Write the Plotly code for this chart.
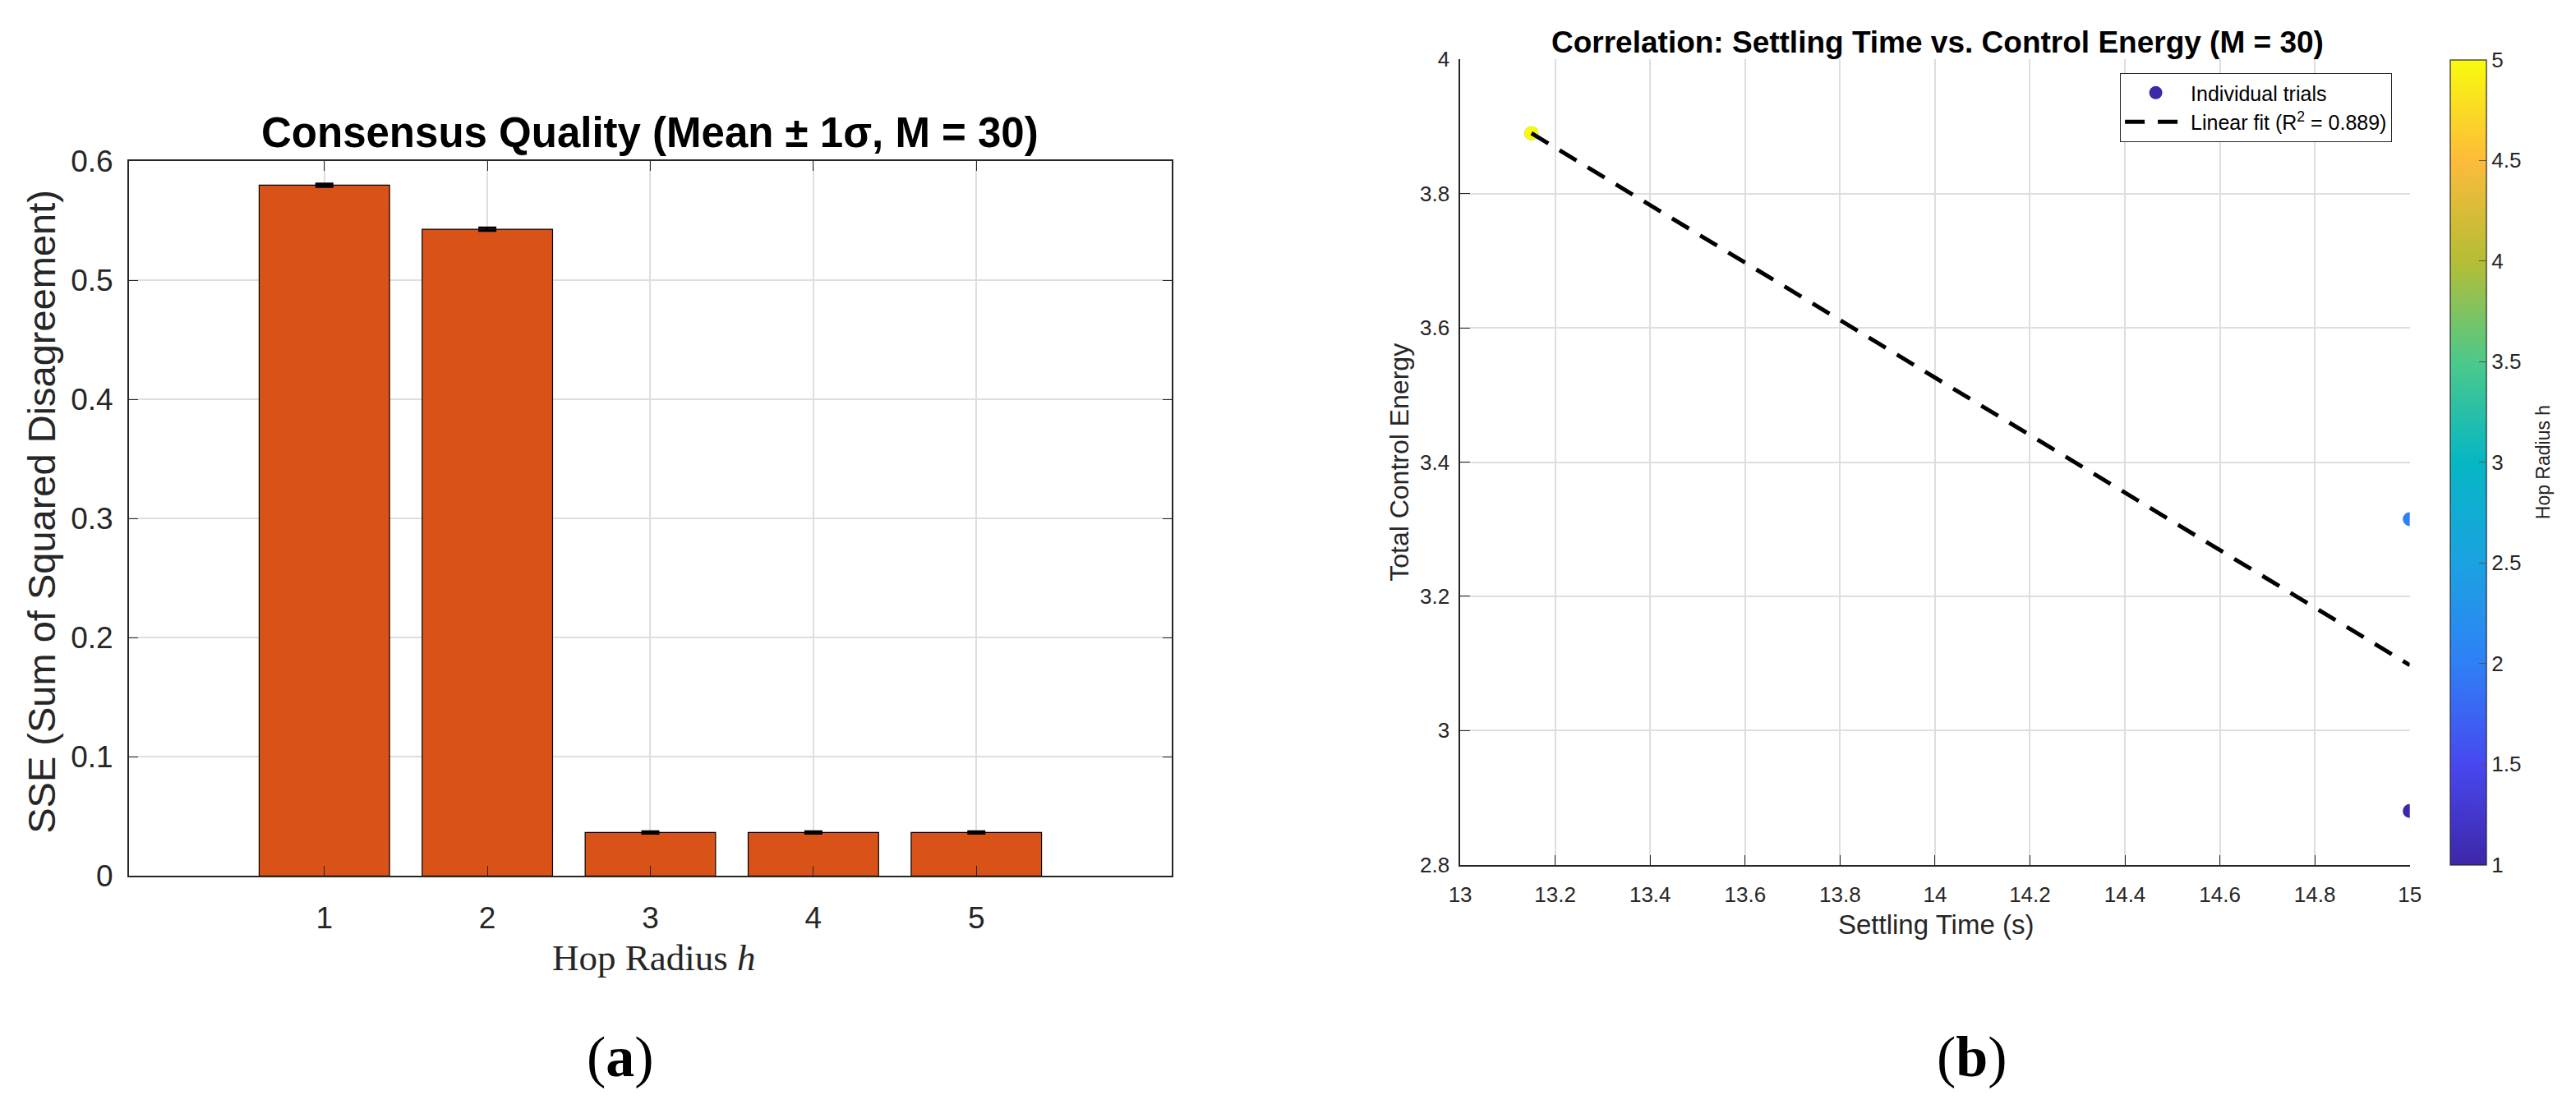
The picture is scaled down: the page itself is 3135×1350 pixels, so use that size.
import numpy as np
import plotly.graph_objects as go

W, H = 3135, 1350

# ---------------- data ----------------
hop_radius = [1, 2, 3, 4, 5]
sse_mean = [0.580, 0.543, 0.0365, 0.0365, 0.0365]
sse_std = [0.0012, 0.0012, 0.0008, 0.0008, 0.0008]

trial_h = [1, 2, 3, 4, 5]
settling_time = [15.0, 15.0, 13.15, 13.15, 13.15]
control_energy = [2.88, 3.315, 3.89, 3.89, 3.89]
r2_text = "0.889"

sse_ticks = [0, 0.1, 0.2, 0.3, 0.4, 0.5, 0.6]
st_ticks = [13, 13.2, 13.4, 13.6, 13.8, 14, 14.2, 14.4, 14.6, 14.8, 15]
ce_ticks = [2.8, 3, 3.2, 3.4, 3.6, 3.8, 4]
cb_ticks = [1, 1.5, 2, 2.5, 3, 3.5, 4, 4.5, 5]

# linear fit of the trials
slope, intercept = np.polyfit(settling_time, control_energy, 1)
fit_x = [min(settling_time), max(settling_time)]
fit_y = [slope * v + intercept for v in fit_x]

parula = [
    [0.0, "#3E26A8"], [0.125, "#4748F0"], [0.25, "#2F80F6"],
    [0.375, "#1BA2E2"], [0.5, "#06B6C4"], [0.625, "#4CC98A"],
    [0.75, "#B5BD35"], [0.875, "#FDBB3A"], [1.0, "#F9FB0E"],
]

def fmt(v):
    s = ("%.1f" % v)
    return s[:-2] if s.endswith(".0") else s

SANS = "Liberation Sans, Arial, sans-serif"
SERIF = "Liberation Serif, Times New Roman, serif"
AX = "#262626"

def px(x):
    return x / W

def py(y):
    return 1 - y / H

fig = go.Figure()

# ---- panel (a): bars ----
fig.add_trace(go.Bar(
    x=hop_radius, y=sse_mean, width=0.8,
    marker=dict(color="#D95319", line=dict(color="black", width=1.2)),
    error_y=dict(type="data", array=sse_std, visible=True,
                 color="black", thickness=3, width=11),
    xaxis="x", yaxis="y", showlegend=False,
))

# ---- panel (b): scatter ----
fig.add_trace(go.Scatter(
    x=settling_time, y=control_energy, mode="markers",
    name="Individual trials",
    marker=dict(size=17, color=trial_h, colorscale=parula, cmin=1, cmax=5,
                line=dict(width=0), showscale=True,
                colorbar=dict(
                    x=px(2995), xanchor="left", xpad=0,
                    y=py(1065), yanchor="bottom", ypad=0,
                    len=(1065 - 54) / H, lenmode="fraction",
                    thickness=44, thicknessmode="pixels",
                    outlinewidth=1.2, outlinecolor=AX,
                    tickvals=cb_ticks, ticktext=[fmt(v) for v in cb_ticks],
                    ticks="inside", ticklen=9, tickcolor="#555555",
                    tickfont=dict(family=SANS, size=26, color=AX),
                )),
    xaxis="x2", yaxis="y2",
))
fig.add_trace(go.Scatter(
    x=fit_x, y=fit_y, mode="lines",
    name="Linear fit (R<sup>2</sup> = " + r2_text + ")",
    line=dict(color="black", width=5, dash="24px,16px"),
    xaxis="x2", yaxis="y2",
))

common_axis = dict(
    showline=True, linecolor=AX, linewidth=1.5,
    ticks="inside", ticklen=12, tickcolor=AX, tickwidth=1.2,
    showgrid=True, gridcolor="#DEDEDE", gridwidth=1.5,
    zeroline=False,
)

fig.update_layout(
    width=W, height=H,
    margin=dict(l=0, r=0, t=0, b=0),
    paper_bgcolor="white", plot_bgcolor="white",
    xaxis=dict(domain=[px(144), px(1425)], range=[-0.2, 6.2],
               tickvals=hop_radius, ticktext=[str(v) for v in hop_radius],
               tickfont=dict(family=SANS, size=37, color=AX),
               ticklabelstandoff=18,
               mirror="ticks", anchor="y", **common_axis),
    yaxis=dict(domain=[py(1079), py(182)], range=[0, 0.6],
               tickvals=sse_ticks, ticktext=[fmt(v) for v in sse_ticks],
               tickfont=dict(family=SANS, size=37, color=AX),
               ticklabelstandoff=10,
               mirror="ticks", anchor="x", **common_axis),
    xaxis2=dict(domain=[px(1779), px(2945)], range=[13, 15],
                tickvals=st_ticks, ticktext=[fmt(v) for v in st_ticks],
                tickfont=dict(family=SANS, size=26, color=AX),
                ticklabelstandoff=12,
                anchor="y2", **common_axis),
    yaxis2=dict(domain=[py(1065), py(54)], range=[2.8, 4],
                tickvals=ce_ticks, ticktext=[fmt(v) for v in ce_ticks],
                tickfont=dict(family=SANS, size=26, color=AX),
                ticklabelstandoff=6,
                anchor="x2", **common_axis),
    legend=dict(x=px(2923), xanchor="right", y=py(71), yanchor="top",
                bgcolor="white", bordercolor=AX, borderwidth=1.2,
                font=dict(family=SANS, size=25, color="black"),
                itemwidth=75, tracegroupgap=2),
    showlegend=True,
)

ann = []
def text(x, y, s, size, family=SANS, color="black", angle=0):
    ann.append(dict(x=px(x), y=py(y), xref="paper", yref="paper",
                    xanchor="center", yanchor="middle", showarrow=False,
                    text=s, textangle=angle,
                    font=dict(family=family, size=size, color=color)))

text(784, 146, "<b>Consensus Quality (Mean ± 1σ, M = 30)</b>", 51)
text(36, 622, "SSE (Sum of Squared Disagreement)", 47, color=AX, angle=-90)
text(789, 1182, "Hop Radius <i>h</i>", 45, family=SERIF, color=AX)

text(2365, 32, "<b>Correlation: Settling Time vs. Control Energy (M = 30)</b>", 37)
text(1704, 560, "Total Control Energy", 32, color=AX, angle=-90)
text(2363, 1140, "Settling Time (s)", 33, color=AX)
text(3109, 560, "Hop Radius h", 23, color=AX, angle=-90)

text(748, 1306, "(<b>a</b>)", 70, family=SERIF)
text(2408, 1306, "(<b>b</b>)", 70, family=SERIF)

fig.update_layout(annotations=ann)

fig.write_html("out.html")
